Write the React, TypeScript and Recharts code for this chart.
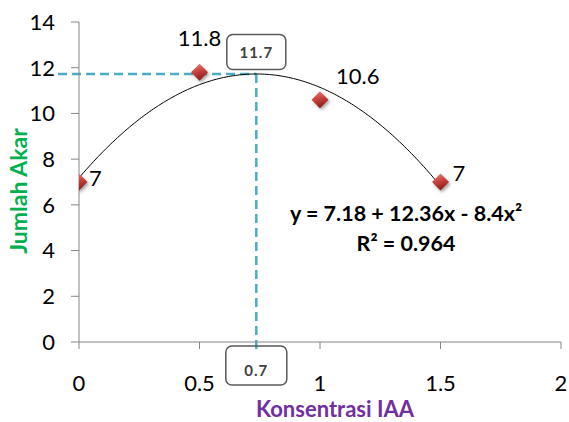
import React from 'react';
import { ScatterChart, Scatter, XAxis, YAxis, ReferenceLine, ReferenceDot, Label } from 'recharts';

// ---- data ----
const concentrations = [0, 0.5, 1, 1.5];
const rootCounts = [7, 11.8, 10.6, 7];
const xTicks = [0, 0.5, 1, 1.5, 2];
const yTicks = [0, 2, 4, 6, 8, 10, 12, 14];
const trendCoefficients = [7.18, 12.36, -8.4]; // y = a + b x + c x^2 (shown on chart)
const equationText = 'y = 7.18 + 12.36x - 8.4x²';
const rSquaredText = 'R² = 0.964';
const peakXLabel = '0.7';
const peakYLabel = '11.7';
const xAxisTitle = 'Konsentrasi IAA';
const yAxisTitle = 'Jumlah Akar';

// ---- label placement (style only) ----
const labelOffsets = [
  { dx: 10, dy: -5, anchor: 'start' },
  { dx: 0, dy: -35, anchor: 'middle' },
  { dx: 16, dy: -24, anchor: 'start' },
  { dx: 12, dy: -10, anchor: 'start' },
];

const FONT = 'Lato, "Open Sans", sans-serif';

const points = concentrations.map((x, i) => ({ x, y: rootCounts[i] }));

const [ca, cb, cc] = trendCoefficients;
const trendX: number[] = [];
for (let i = 0; i <= 150; i++) trendX.push(i / 100);
const trendData = trendX.map((x) => ({ x, y: ca + cb * x + cc * x * x }));
const peakX = -cb / (2 * cc);
const peakY = ca + cb * peakX + cc * peakX * peakX;

const DASH = '#4bacc6';
const AXIS = '#868686';

const PointShape = (props: any) => {
  const { cx, cy, payload } = props;
  const idx = concentrations.indexOf(payload.x);
  const off = labelOffsets[idx] || { dx: 10, dy: -5, anchor: 'start' };
  const s = 8.5;
  return (
    <g>
      <path
        d={`M${cx},${cy - s} L${cx + s},${cy} L${cx},${cy + s} L${cx - s},${cy} Z`}
        fill="url(#diamondGrad)"
        filter="url(#dshadow)"
      />
      <text
        x={cx + off.dx}
        y={cy + off.dy}
        textAnchor={off.anchor as any}
        dominantBaseline="central"
        fontFamily={FONT}
        fontSize={22}
        fill="#000"
      >
        {String(payload.y)}
      </text>
    </g>
  );
};

const BoxShape = (text: string, dy: number, w: number, h: number, textDy: number) => (props: any) => {
  const { cx, cy } = props;
  return (
    <g>
      <rect
        x={cx - w / 2}
        y={cy + dy - h / 2}
        width={w}
        height={h}
        rx={6}
        ry={6}
        fill="none"
        stroke="#595959"
        strokeWidth={1.5}
      />
      <text
        x={cx}
        y={cy + dy + textDy}
        textAnchor="middle"
        dominantBaseline="central"
        fontFamily={FONT}
        fontWeight={700}
        fontSize={15}
        fill="#404040"
        letterSpacing={1}
      >
        {text}
      </text>
    </g>
  );
};

const EquationShape = (props: any) => {
  const { cx, cy } = props;
  return (
    <g>
      <text x={cx} y={cy - 15} textAnchor="middle" dominantBaseline="central" fontFamily={FONT} fontWeight={700} fontSize={21.5} fill="#000">
        {equationText}
      </text>
      <text x={cx} y={cy + 15} textAnchor="middle" dominantBaseline="central" fontFamily={FONT} fontWeight={700} fontSize={21.5} fill="#000">
        {rSquaredText}
      </text>
    </g>
  );
};

export default function App() {
  return (
    <div style={{ position: 'absolute', left: 0, top: 0, width: 569, height: 422, background: '#fff' }}>
      <ScatterChart width={569} height={422} margin={{ top: 22, right: 8, left: 0, bottom: 0 }}>
        <defs>
          <linearGradient id="diamondGrad" x1="0" y1="0" x2="0.3" y2="1">
            <stop offset="0%" stopColor="#ee8a85" />
            <stop offset="45%" stopColor="#cf4a45" />
            <stop offset="100%" stopColor="#8e1f1c" />
          </linearGradient>
          <filter id="dshadow" x="-50%" y="-50%" width="200%" height="200%">
            <feDropShadow dx="1.5" dy="2" stdDeviation="1.5" floodColor="#000" floodOpacity="0.35" />
          </filter>
        </defs>
        <XAxis
          type="number"
          dataKey="x"
          domain={[0, 2]}
          ticks={xTicks}
          height={80}
          tickSize={7}
          tickMargin={26}
          stroke={AXIS}
          tick={{ fill: '#000', fontSize: 22, fontFamily: FONT }}
          tickFormatter={(v: number) => String(v)}
          allowDataOverflow
        >
          <Label
            content={(p: any) => {
              const vb = p.viewBox || { x: 79, y: 342, width: 482, height: 80 };
              return (
                <text
                  x={vb.x + vb.width / 2 + 15}
                  y={408}
                  textAnchor="middle"
                  dominantBaseline="central"
                  fontFamily={FONT}
                  fontWeight={700}
                  fontSize={22}
                  fill="#7030a0"
                >
                  {xAxisTitle}
                </text>
              );
            }}
          />
        </XAxis>
        <YAxis
          type="number"
          dataKey="y"
          domain={[0, 14]}
          ticks={yTicks}
          width={79}
          tickSize={8}
          tickMargin={16}
          stroke={AXIS}
          tick={{ fill: '#000', fontSize: 22, fontFamily: FONT }}
          allowDataOverflow
        >
          <Label
            content={() => (
              <text
                x={18}
                y={191}
                transform="rotate(-90 18 191)"
                textAnchor="middle"
                dominantBaseline="central"
                fontFamily={FONT}
                fontWeight={700}
                fontSize={23}
                fill="#00b050"
              >
                {yAxisTitle}
              </text>
            )}
          />
        </YAxis>
        <ReferenceLine
          segment={[{ x: -0.087, y: peakY }, { x: peakX, y: peakY }]}
          stroke={DASH}
          strokeWidth={2.5}
          strokeDasharray="9 5"
          ifOverflow="visible"
        />
        <ReferenceLine
          segment={[{ x: peakX, y: peakY }, { x: peakX, y: -0.42 }]}
          stroke={DASH}
          strokeWidth={2.5}
          strokeDasharray="9 5"
          ifOverflow="visible"
        />
        <Scatter
          data={trendData}
          line={{ stroke: '#000', strokeWidth: 1 }}
          lineType="joint"
          shape={() => <g />}
          isAnimationActive={false}
        />
        <Scatter data={points} shape={PointShape} isAnimationActive={false} />
        <ReferenceDot x={peakX} y={peakY} r={0} ifOverflow="visible" shape={BoxShape(peakYLabel, -22, 59, 35, 0)} />
        <ReferenceDot x={peakX} y={0} r={0} ifOverflow="visible" shape={BoxShape(peakXLabel, 23.5, 61, 39, 4)} />
        <ReferenceDot x={1.357} y={5.0} r={0} ifOverflow="visible" shape={EquationShape} />
      </ScatterChart>
    </div>
  );
}
